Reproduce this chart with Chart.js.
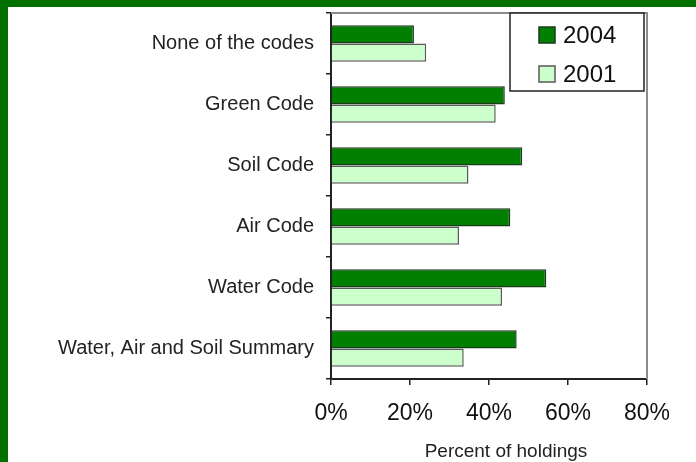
<!DOCTYPE html>
<html>
<head>
<meta charset="utf-8">
<script src="https://cdn.jsdelivr.net/npm/chart.js@4"></script>
<style>
  html, body { margin: 0; padding: 0; }
  body { width: 696px; height: 462px; background: #007000; overflow: hidden; position: relative; }
  #area { position: absolute; left: 8px; top: 7px; width: 688px; height: 455px; background: #fff; }
</style>
</head>
<body>
<div id="area"><canvas id="grafico"></canvas></div>
<script>
const categorias = ['None of the codes', 'Green Code', 'Soil Code', 'Air Code', 'Water Code', 'Water, Air and Soil Summary'];
const valores2004 = [21, 44, 48.4, 45.4, 54.5, 47];
const valores2001 = [24.1, 41.7, 34.8, 32.4, 43.3, 33.6];
const ticksX = [0, 20, 40, 60, 80];
const tituloX = 'Percent of holdings';

const fonte = '"Liberation Sans", Arial, sans-serif';

// moldura cinza (topo e direita) da area do grafico
const moldura = {
    id: 'moldura',
    beforeDatasetsDraw(chart) {
        const a = chart.chartArea, ctx = chart.ctx;
        ctx.save();
        ctx.strokeStyle = '#8c8c8c';
        ctx.lineWidth = 2;
        ctx.beginPath();
        ctx.moveTo(a.left, a.top);
        ctx.lineTo(a.right, a.top);
        ctx.lineTo(a.right, a.bottom);
        ctx.stroke();
        ctx.restore();
    }
};

// legenda com caixa, no canto superior direito
const legendaCaixa = {
    id: 'legendaCaixa',
    afterDraw(chart) {
        const a = chart.chartArea, ctx = chart.ctx;
        const x = a.right - 137, y = a.top, w = 134, h = 78;
        ctx.save();
        ctx.fillStyle = '#fff';
        ctx.fillRect(x, y, w, h);
        ctx.strokeStyle = '#222';
        ctx.lineWidth = 1.5;
        ctx.strokeRect(x, y, w, h);
        ctx.font = '24px ' + fonte;
        ctx.textBaseline = 'middle';
        chart.data.datasets.forEach((ds, i) => {
            const cy = y + 22 + i * 39;
            ctx.fillStyle = ds.backgroundColor;
            ctx.fillRect(x + 29, cy - 8, 16, 16);
            ctx.strokeStyle = ds.borderColor;
            ctx.lineWidth = 1.5;
            ctx.strokeRect(x + 29, cy - 8, 16, 16);
            ctx.fillStyle = '#111';
            ctx.fillText(ds.label, x + 53, cy + 1);
        });
        ctx.restore();
    }
};

// titulo do eixo x (um pouco deslocado para a direita, como no original)
const tituloEixo = {
    id: 'tituloEixo',
    afterDraw(chart) {
        const a = chart.chartArea, ctx = chart.ctx;
        ctx.save();
        ctx.font = '19px ' + fonte;
        ctx.fillStyle = '#222';
        ctx.textAlign = 'center';
        ctx.textBaseline = 'middle';
        ctx.fillText(tituloX, (a.left + a.right) / 2 + 17, chart.height - 10);
        ctx.restore();
    }
};

new Chart(document.getElementById('grafico'), {
    type: 'bar',
    data: {
        labels: categorias,
        datasets: [{
            label: '2004',
            data: valores2004,
            backgroundColor: '#007f00',
            borderColor: '#1c3a1c',
            borderWidth: 1.5,
            categoryPercentage: 0.6,
            barPercentage: 1.0
        }, {
            label: '2001',
            data: valores2001,
            backgroundColor: '#ccffcc',
            borderColor: '#5a5a5a',
            borderWidth: 1.5,
            categoryPercentage: 0.6,
            barPercentage: 1.0
        }]
    },
    options: {
        indexAxis: 'y',
        responsive: true,
        maintainAspectRatio: false,
        animation: false,
        layout: { padding: { left: 0, right: 49, top: 6, bottom: 0 } },
        plugins: {
            legend: { display: false },
            tooltip: { enabled: false }
        },
        scales: {
            x: {
                min: 0,
                max: 80,
                afterBuildTicks: s => { s.ticks = ticksX.map(v => ({ value: v })); },
                ticks: {
                    callback: v => v + '%',
                    color: '#111',
                    font: { family: fonte, size: 23 },
                    padding: 15,
                    maxRotation: 0
                },
                grid: { drawOnChartArea: false, drawTicks: true, tickLength: 6, color: '#222', lineWidth: 1.5 },
                border: { display: true, color: '#222', width: 2 },
                afterFit: s => { s.height = 83; }
            },
            y: {
                ticks: {
                    color: '#222',
                    font: { family: fonte, size: 20 },
                    padding: 12
                },
                grid: { offset: true, drawOnChartArea: false, drawTicks: true, tickLength: 5, color: '#222', lineWidth: 1.5 },
                border: { display: true, color: '#222', width: 2 },
                afterFit: s => { s.width = 323; s.paddingTop = 0; s.paddingBottom = 0; }
            }
        }
    },
    plugins: [moldura, legendaCaixa, tituloEixo]
});
</script>
</body>
</html>
